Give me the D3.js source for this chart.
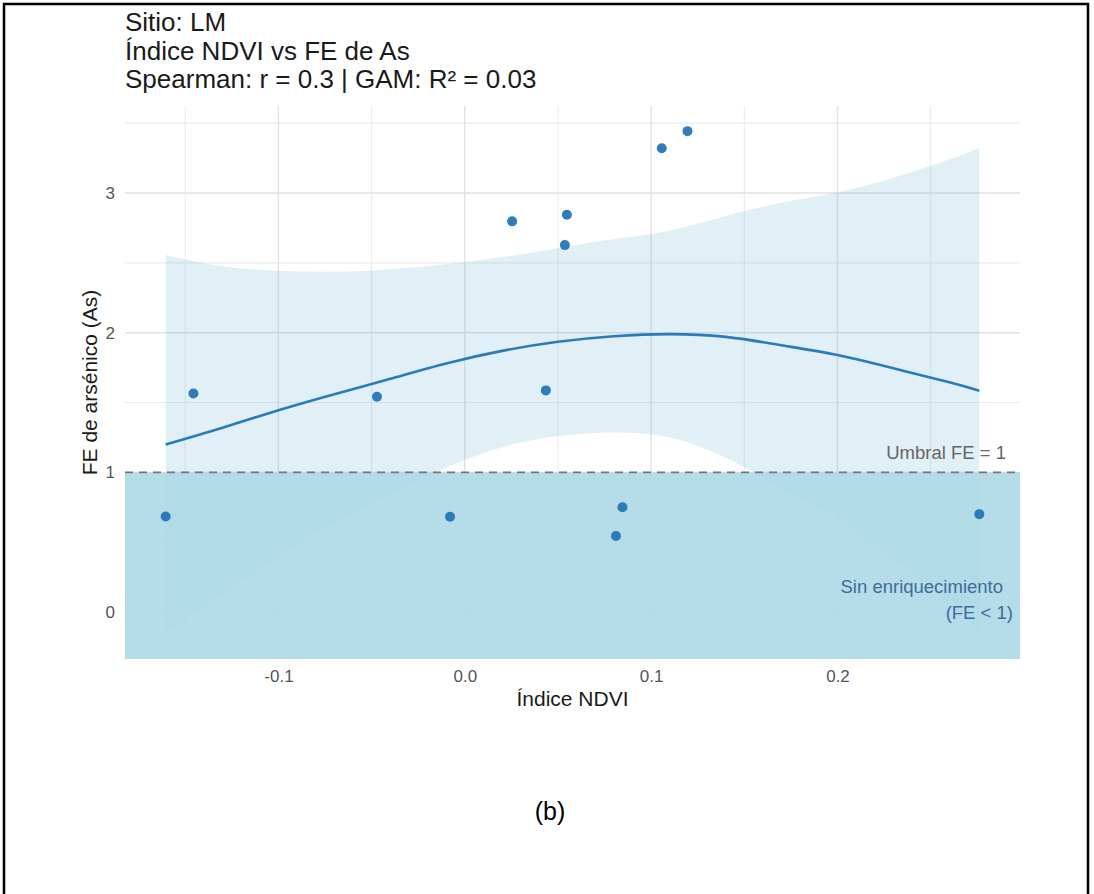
<!DOCTYPE html>
<html>
<head>
<meta charset="utf-8">
<script src="https://cdn.jsdelivr.net/npm/d3@7"></script>
<style>
  html, body { margin: 0; padding: 0; background: #fff; }
  svg { display: block; }
  text { font-family: "Liberation Sans", Arial, Helvetica, sans-serif; }
</style>
</head>
<body>
<svg id="chart" width="1094" height="894"></svg>
<script>
// Observations: NDVI index and arsenic enrichment factor (site LM)
const ndvi = [-0.1605, -0.1456, -0.0471, -0.0079, 0.0254, 0.0435, 0.0537, 0.0548, 0.0811, 0.0846, 0.1057, 0.1195, 0.2761];
const feAs = [0.684, 1.565, 1.541, 0.682, 2.797, 1.587, 2.627, 2.845, 0.545, 0.751, 3.321, 3.443, 0.701];

// GAM smooth with its confidence band
const gamX     = [-0.1605, -0.13, -0.10, -0.07, -0.04, -0.01, 0.02, 0.05, 0.08, 0.11, 0.14, 0.17, 0.20, 0.23, 0.26, 0.2761];
const gamFit   = [1.20, 1.32, 1.445, 1.56, 1.67, 1.78, 1.87, 1.935, 1.975, 1.99, 1.97, 1.91, 1.84, 1.745, 1.645, 1.585];
const gamUpper = [2.556, 2.475, 2.443, 2.437, 2.455, 2.49, 2.54, 2.605, 2.67, 2.73, 2.835, 2.93, 3.005, 3.11, 3.24, 3.324];
const gamLower = [-0.156, 0.13, 0.40, 0.64, 0.85, 1.035, 1.18, 1.26, 1.285, 1.25, 1.105, 0.89, 0.67, 0.38, 0.05, -0.154];

// Axis ticks
const xTicks = [-0.1, 0.0, 0.1, 0.2];
const xMinor = [-0.15, -0.05, 0.05, 0.15, 0.25];
const yTicks = [0, 1, 2, 3];
const yMinor = [0.5, 1.5, 2.5, 3.5];

const threshold = 1;
const titleLines = ["Sitio: LM", "Índice NDVI vs FE de As", "Spearman: r = 0.3 | GAM: R² = 0.03"];

const svg = d3.select("#chart");
const panel = { left: 125, right: 1020, top: 106, bottom: 659 };

// 5% expansion of the data range on both axes
function expand(lo, hi) { const p = (hi - lo) * 0.05; return [lo - p, hi + p]; }
const xExt = d3.extent(ndvi);
const yLo = Math.min(d3.min(feAs), d3.min(gamLower));
const yHi = Math.max(d3.max(feAs), d3.max(gamUpper));

const x = d3.scaleLinear().domain(expand(xExt[0], xExt[1])).range([panel.left, panel.right]);
const y = d3.scaleLinear().domain(expand(yLo, yHi)).range([panel.bottom, panel.top]);

// outer frame
svg.append("rect").attr("x", 4).attr("y", 4).attr("width", 1084).attr("height", 900)
  .attr("fill", "none").attr("stroke", "#000").attr("stroke-width", 2.5);

// grid
const grid = svg.append("g");
grid.selectAll(".vminor").data(xMinor).join("line")
  .attr("x1", d => x(d)).attr("x2", d => x(d)).attr("y1", panel.top).attr("y2", panel.bottom)
  .attr("stroke", "#ebebeb").attr("stroke-width", 1.1);
grid.selectAll(".hminor").data(yMinor).join("line")
  .attr("x1", panel.left).attr("x2", panel.right).attr("y1", d => y(d)).attr("y2", d => y(d))
  .attr("stroke", "#ebebeb").attr("stroke-width", 1.1);
grid.selectAll(".vmajor").data(xTicks).join("line")
  .attr("x1", d => x(d)).attr("x2", d => x(d)).attr("y1", panel.top).attr("y2", panel.bottom)
  .attr("stroke", "#e2e2e2").attr("stroke-width", 1.4);
grid.selectAll(".hmajor").data(yTicks).join("line")
  .attr("x1", panel.left).attr("x2", panel.right).attr("y1", d => y(d)).attr("y2", d => y(d))
  .attr("stroke", "#e2e2e2").attr("stroke-width", 1.4);

// confidence band
const band = gamX.map((v, i) => ({ x: v, lo: gamLower[i], hi: gamUpper[i], fit: gamFit[i] }));
svg.append("path").datum(band)
  .attr("d", d3.area().x(d => x(d.x)).y0(d => y(d.lo)).y1(d => y(d.hi)).curve(d3.curveNatural))
  .attr("fill", "#6baed6").attr("fill-opacity", 0.2);

// "no enrichment" zone below the threshold
svg.append("rect")
  .attr("x", panel.left).attr("y", y(threshold))
  .attr("width", panel.right - panel.left).attr("height", panel.bottom - y(threshold))
  .attr("fill", "#add8e6").attr("fill-opacity", 0.9);

// threshold line
svg.append("line")
  .attr("x1", panel.left).attr("x2", panel.right).attr("y1", y(threshold)).attr("y2", y(threshold))
  .attr("stroke", "#777").attr("stroke-width", 1.6).attr("stroke-dasharray", "8,6");

// points
svg.append("g").selectAll("circle").data(ndvi.map((v, i) => [v, feAs[i]])).join("circle")
  .attr("cx", d => x(d[0])).attr("cy", d => y(d[1])).attr("r", 5)
  .attr("fill", "#1f72b4").attr("fill-opacity", 0.92);

// smooth line
svg.append("path").datum(band)
  .attr("d", d3.line().x(d => x(d.x)).y(d => y(d.fit)).curve(d3.curveNatural))
  .attr("fill", "none").attr("stroke", "#2b7bba").attr("stroke-width", 2.6);

// annotations
svg.append("text").attr("x", 1006).attr("y", 459).attr("text-anchor", "end")
  .attr("font-size", 18.5).attr("fill", "#666").text("Umbral FE = " + threshold);
svg.append("text").attr("x", 1003).attr("y", 593).attr("text-anchor", "end")
  .attr("font-size", 18.5).attr("fill", "#3d6d99").text("Sin enriquecimiento");
svg.append("text").attr("x", 1013).attr("y", 619).attr("text-anchor", "end")
  .attr("font-size", 18.5).attr("fill", "#3d6d99").text("(FE < 1)");

// axes
const fmt = d => d3.format(".1f")(d).replace("\u2212", "-");
const xAxis = svg.append("g").attr("transform", `translate(0,${panel.bottom})`)
  .call(d3.axisBottom(x).tickValues(xTicks).tickFormat(fmt).tickSize(0).tickPadding(11));
xAxis.select(".domain").remove();
xAxis.selectAll("text").attr("font-size", 17).attr("fill", "#555")
  .attr("font-family", "Liberation Sans, Arial, sans-serif");

const yAxis = svg.append("g").attr("transform", `translate(${panel.left},0)`)
  .call(d3.axisLeft(y).tickValues(yTicks).tickFormat(d3.format("d")).tickSize(0).tickPadding(10));
yAxis.select(".domain").remove();
yAxis.selectAll("text").attr("font-size", 17).attr("fill", "#555")
  .attr("font-family", "Liberation Sans, Arial, sans-serif");

// axis titles
svg.append("text").attr("x", (panel.left + panel.right) / 2).attr("y", 706)
  .attr("text-anchor", "middle").attr("font-size", 21).attr("fill", "#1a1a1a").text("Índice NDVI");
svg.append("text")
  .attr("transform", `translate(97,${(panel.top + panel.bottom) / 2}) rotate(-90)`)
  .attr("text-anchor", "middle").attr("font-size", 21).attr("fill", "#1a1a1a").text("FE de arsénico (As)");

// title block
svg.append("g").selectAll("text").data(titleLines).join("text")
  .attr("x", panel.left).attr("y", (d, i) => 31 + i * 28.5)
  .attr("font-size", 26).attr("fill", "#1a1a1a").text(d => d);

// panel caption
svg.append("text").attr("x", 550).attr("y", 820).attr("text-anchor", "middle")
  .attr("font-family", "Open Sans, Noto Sans, sans-serif")
  .attr("font-size", 25).attr("fill", "#000").text("(b)");
</script>
</body>
</html>
